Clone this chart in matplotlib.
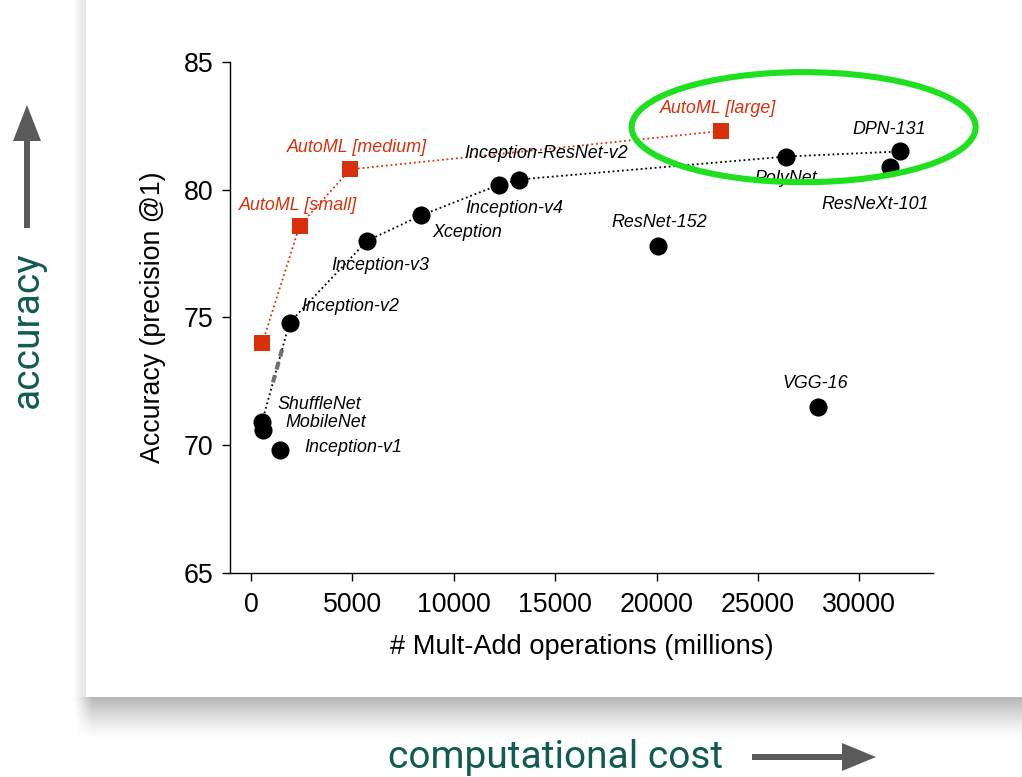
import matplotlib
matplotlib.use("Agg")
import matplotlib.pyplot as plt
import numpy as np
from matplotlib.patches import Ellipse, FancyArrow, Rectangle

# --- data ---
nets = ["ShuffleNet", "MobileNet", "Inception-v1", "Inception-v2", "Inception-v3",
        "Xception", "Inception-v4", "Inception-ResNet-v2", "ResNet-152", "PolyNet",
        "ResNeXt-101", "DPN-131", "VGG-16"]
net_madds = [540, 580, 1450, 1900, 5720, 8400, 12250, 13200, 20050, 26400, 31500, 32000, 27950]
net_acc = [70.9, 70.6, 69.8, 74.8, 78.0, 79.0, 80.2, 80.4, 77.8, 81.3, 80.9, 81.5, 71.5]
# networks joined by the black dotted frontier
frontier = ["ShuffleNet", "Inception-v2", "Inception-v3", "Xception", "Inception-v4",
            "Inception-ResNet-v2", "PolyNet", "DPN-131"]

automl_names = ["", "AutoML [small]", "AutoML [medium]", "AutoML [large]"]
automl_madds = [560, 2400, 4900, 23200]
automl_acc = [74.0, 78.6, 80.8, 82.3]

xticks = [0, 5000, 10000, 15000, 20000, 25000, 30000]
yticks = [65, 70, 75, 80, 85]

# label offsets in pixels (dx, dy) from each point
net_offsets = {
    "ShuffleNet": (57, 18), "MobileNet": (63, 7), "Inception-v1": (73, 3),
    "Inception-v2": (61, 16), "Inception-v3": (13, -25), "Xception": (46, -17),
    "Inception-v4": (15, -24), "Inception-ResNet-v2": (27, 26), "ResNet-152": (2, 23),
    "PolyNet": (-1, -22), "ResNeXt-101": (-15, -38), "DPN-131": (-11, 22), "VGG-16": (-3, 23),
}
automl_offsets = [(0, 0), (-2, 20), (7, 22), (-3, 22)]

RED = "#d9300c"
TEAL = "#115c51"
ARROW = "#5a5a5a"
W, H = 1022, 777

fig = plt.figure(figsize=(W / 100, H / 100), dpi=100)
fig.patch.set_facecolor("white")

# background layer in pixel coordinates: card with drop shadow, outer arrows/text
bg = fig.add_axes([0, 0, 1, 1])
bg.set_xlim(0, W)
bg.set_ylim(H, 0)
bg.axis("off")

card_left, card_bottom = 86, 697
yy, xx = np.mgrid[0:H, 0:W]
d_b = yy - card_bottom
s_b = np.where((d_b >= 0) & (d_b < 42), 0.29 * (1 - d_b / 42) ** 1.3, 0)
s_b = s_b * np.clip((xx - 74) / 18, 0, 1)
d_l = card_left - xx
s_l = np.where((d_l >= 0) & (d_l < 14) & (yy < card_bottom + 5), 0.12 * (1 - d_l / 14), 0)
shade = 1 - np.maximum(s_b, s_l)
bg.imshow(shade, cmap="gray", vmin=0, vmax=1, extent=(0, W, H, 0), aspect="auto",
          interpolation="bilinear")
bg.add_patch(Rectangle((card_left, -5), W - card_left + 5, card_bottom + 5,
                       facecolor="white", edgecolor="none"))

bg.text(27, 330, "accuracy", rotation=90, ha="center", va="center",
        fontsize=28, color=TEAL, family="Roboto")
bg.add_patch(FancyArrow(27, 228, 0, -123, width=6, head_width=28, head_length=36,
                        length_includes_head=True, color=ARROW, lw=0))
bg.text(556, 757, "computational cost", ha="center", va="center",
        fontsize=28, color=TEAL, family="Roboto")
bg.add_patch(FancyArrow(752, 757, 124, 0, width=6, head_width=28, head_length=34,
                        length_includes_head=True, color=ARROW, lw=0))

# main chart
ax = fig.add_axes([230 / W, 1 - 573 / H, (933 - 230) / W, (573 - 62) / H])
ax.patch.set_alpha(0)
ax.set_xlim(-1035, 33630)
ax.set_ylim(65, 85)

idx = [nets.index(n) for n in frontier]
fx = [net_madds[i] for i in idx]
fy = [net_acc[i] for i in idx]
ax.plot(fx, fy, color="black", lw=1.3, ls=(0, (1, 1.6)), zorder=2)
# grey dashed bit on the first frontier segment
t = np.array([0.40, 0.76])
ax.plot(fx[0] + t * (fx[1] - fx[0]), fy[0] + t * (fy[1] - fy[0]),
        color="#707070", lw=3, ls=(0, (1.8, 1.4)), zorder=2)
ax.plot(automl_madds, automl_acc, color=RED, lw=1.3, ls=(0, (1, 1.6)), zorder=2)

ax.scatter(net_madds, net_acc, s=170, color="black", zorder=3, lw=0)
ax.scatter(automl_madds, automl_acc, s=140, marker="s", color=RED, zorder=3, lw=0)

lab = dict(ha="center", va="center", fontsize=12.9, style="italic",
           family="Liberation Sans", textcoords="offset pixels", zorder=4)
for n, x, y in zip(nets, net_madds, net_acc):
    ax.annotate(n, (x, y), xytext=net_offsets[n], color="black", **lab)
for n, x, y, off in zip(automl_names, automl_madds, automl_acc, automl_offsets):
    if n:
        ax.annotate(n, (x, y), xytext=off, color=RED, **lab)

# highlight ring around the large models
ax.add_patch(Ellipse((27250, 82.45), 344 * 5000 / 101.4, 110 / 25.55,
                     fill=False, edgecolor="#1fe01f", lw=4.4, zorder=5, clip_on=False))

for s in ["top", "right"]:
    ax.spines[s].set_visible(False)
for s in ["left", "bottom"]:
    ax.spines[s].set_linewidth(1.0)
ax.set_xticks(xticks)
ax.set_yticks(yticks)
ax.tick_params(direction="out", length=6, width=1.0, labelsize=19.3)
ax.tick_params(axis="x", pad=8)
ax.tick_params(axis="y", pad=6)
for t_ in ax.get_xticklabels() + ax.get_yticklabels():
    t_.set_family("Liberation Sans")
ax.set_xlabel("# Mult-Add operations (millions)", fontsize=19.6, family="Liberation Sans",
              labelpad=11)
ax.set_ylabel("Accuracy (precision @1)", fontsize=19.3, family="Liberation Sans",
              labelpad=13)

fig.savefig("out.png", dpi=100)
